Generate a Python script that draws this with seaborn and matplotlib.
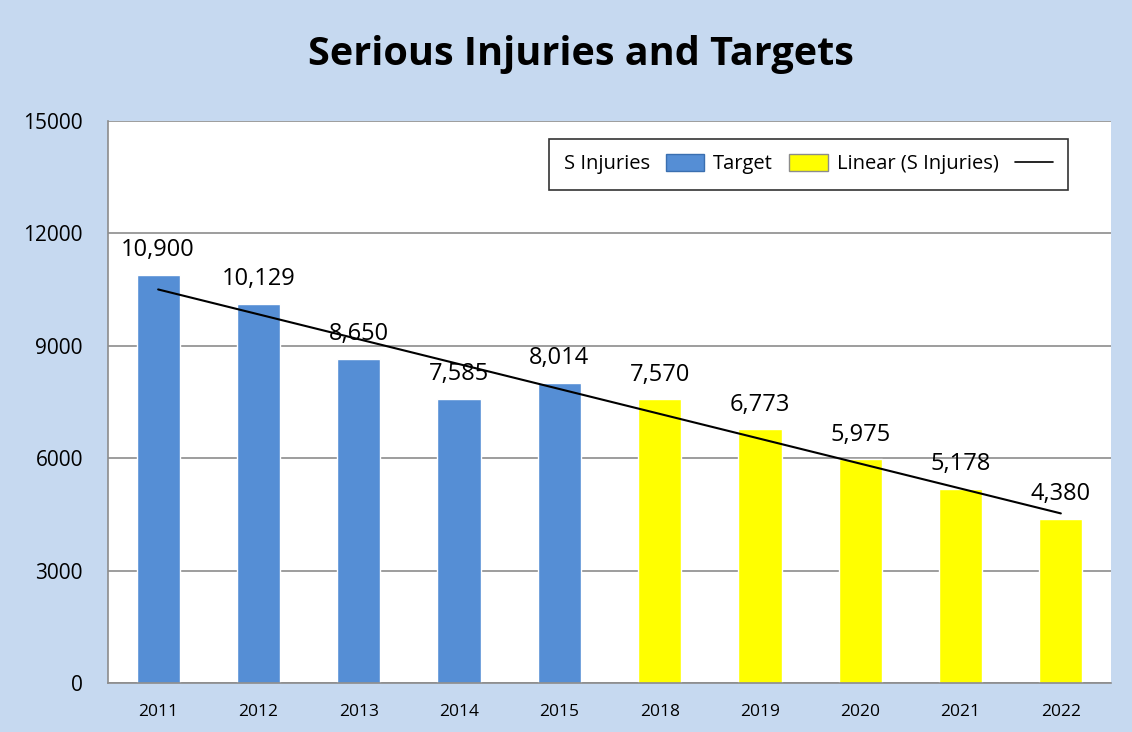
import matplotlib
matplotlib.use("Agg")
import matplotlib.pyplot as plt
from matplotlib.patches import Patch
from matplotlib.lines import Line2D
import seaborn as sns
import numpy as np
import pandas as pd

# Data
years = ["2011", "2012", "2013", "2014", "2015", "2018", "2019", "2020", "2021", "2022"]
injuries = [10900, 10129, 8650, 7585, 8014, 7570, 6773, 5975, 5178, 4380]
series = ["S Injuries"] * 5 + ["Target"] * 5

df = pd.DataFrame({"year": years, "value": injuries, "series": series})

BLUE = "#558ED5"
YELLOW = "#FFFF00"
BG = "#C6D9F0"

sns.set_style("white")
plt.rcParams["font.family"] = ["Open Sans", "DejaVu Sans"]
plt.rcParams["text.color"] = "black"
plt.rcParams["xtick.color"] = "black"
plt.rcParams["ytick.color"] = "black"

fig = plt.figure(figsize=(11.32, 7.32), dpi=100, facecolor=BG)
ax = fig.add_axes([108 / 1132, 1 - 683 / 732, 1003 / 1132, 562 / 732])
ax.set_facecolor("white")

sns.barplot(data=df, x="year", y="value", hue="series",
            palette={"S Injuries": BLUE, "Target": YELLOW},
            width=0.43, dodge=False, legend=False, ax=ax, saturation=1)

# linear trend
idx = np.arange(len(years))
k, b = np.polyfit(idx, injuries, 1)
ax.plot(idx, k * idx + b, color="black", lw=1.5, zorder=4)

# data labels
for i, v in enumerate(injuries):
    ax.annotate(f"{v:,}", (i, v), xytext=(0, 9), textcoords="offset points",
                ha="center", va="bottom", fontsize=17, color="black", zorder=5)

ax.set_xlim(-0.5, len(years) - 0.5)
ax.set_ylim(0, 15000)
ax.set_yticks(np.arange(0, 15001, 3000))
ax.set_yticklabels([str(t) for t in range(0, 15001, 3000)], fontsize=15)
ax.yaxis.grid(True, color="#8C8C8C", lw=1.2)
ax.set_axisbelow(True)
ax.set_xlabel("")
ax.set_ylabel("")

# tick marks on category boundaries, labels at centers
ax.set_xticks(np.arange(-0.5, len(years), 1.0))
ax.set_xticklabels([])
ax.set_xticks(idx, minor=True)
ax.set_xticklabels(years, minor=True, fontsize=12.5)
ax.tick_params(axis="x", which="major", length=6, color="#8C8C8C", direction="out")
ax.tick_params(axis="x", which="minor", length=0, pad=15)
ax.tick_params(axis="y", length=6, color="#8C8C8C", direction="out", pad=12)

for s in ["top", "right"]:
    ax.spines[s].set_visible(False)
for s in ["left", "bottom"]:
    ax.spines[s].set_color("#8C8C8C")
    ax.spines[s].set_linewidth(1.2)

fig.text(581 / 1132, 1 - 54 / 732, "Serious Injuries and Targets", ha="center", va="center",
         fontsize=28.5, fontweight="bold", color="black")

handles = [Patch(facecolor=BLUE, edgecolor="#3A6FB0"),
           Patch(facecolor=YELLOW, edgecolor="#8C8C8C"),
           Line2D([0], [0], color="black", lw=1.2)]
labels = ["S Injuries", "Target", "Linear (S Injuries)"]
leg = ax.legend(handles, labels, ncol=3, markerfirst=False, loc="upper right",
                bbox_to_anchor=(960 / 1003, 1 - 18 / 562), borderaxespad=0,
                fontsize=14.5, frameon=True, fancybox=False, edgecolor="black",
                handlelength=1.9, handleheight=0.9, handletextpad=0.8,
                columnspacing=0.45, borderpad=0.75)
leg.get_frame().set_linewidth(1.2)

fig.savefig("out.png", dpi=100, facecolor=BG)
